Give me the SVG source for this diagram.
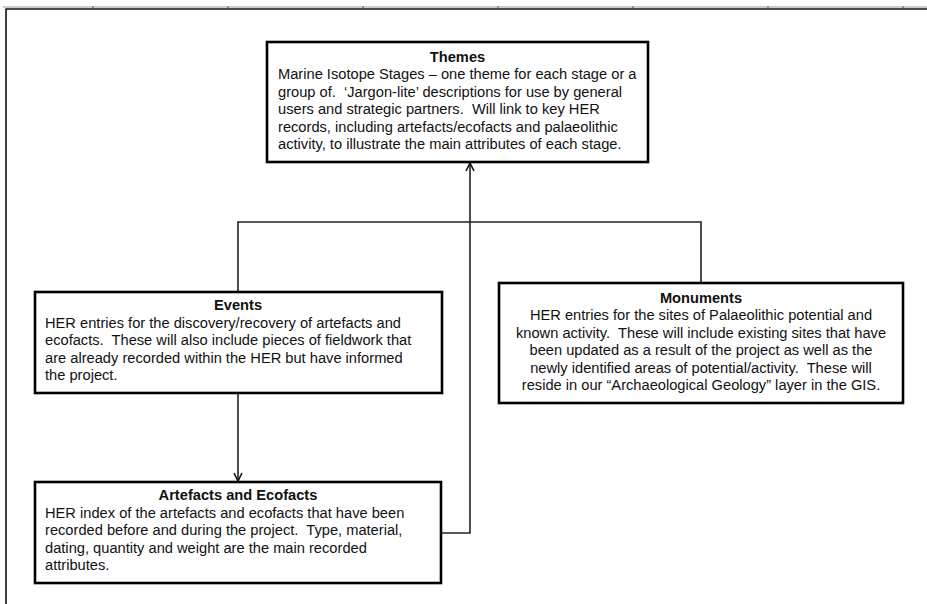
<svg xmlns="http://www.w3.org/2000/svg" width="927" height="604" viewBox="0 0 927 604">
<style>
.box{fill:#fff;stroke:#000;stroke-width:2.6}
.t{font-family:"Liberation Sans",Arial,sans-serif;font-size:14.67px;fill:#111;white-space:pre}
.h{font-weight:bold;text-anchor:middle}
.c{text-anchor:middle}
.con{fill:none;stroke:#222;stroke-width:1.6}
.frame{fill:none;stroke:#111;stroke-width:1.6}
</style>
<defs>
<marker id="arr" viewBox="0 0 10 10" refX="9" refY="5" markerWidth="10" markerHeight="10" markerUnits="userSpaceOnUse" orient="auto">
<path d="M1,1 L9,5 L1,9" fill="none" stroke="#111" stroke-width="1.6"/>
</marker>
</defs>
<rect width="927" height="604" fill="#fff"/>
<g id="frame">
<line x1="3" y1="7" x2="927" y2="7" stroke="#999" stroke-width="1"/>
<path class="frame" d="M6,604 V9 H927"/>
<g stroke="#555" stroke-width="1">
<line x1="93" y1="6" x2="93" y2="8"/><line x1="228" y1="6" x2="228" y2="8"/><line x1="363" y1="6" x2="363" y2="8"/><line x1="498" y1="6" x2="498" y2="8"/><line x1="633" y1="6" x2="633" y2="8"/><line x1="768" y1="6" x2="768" y2="8"/><line x1="903" y1="6" x2="903" y2="8"/>
</g>
</g>
<g id="connectors">
<path class="con" d="M238,292 V222 H701 V283"/>
<path class="con" d="M238,393 V481" marker-end="url(#arr)"/>
<path class="con" d="M441,533 H470 V163" marker-end="url(#arr)"/>
</g>
<g id="themes">
<rect class="box" x="267" y="42" width="381" height="120"/>
<text class="t h" x="457.5" y="61.5">Themes</text>
<text class="t" x="278" y="79">Marine Isotope Stages – one theme for each stage or a</text>
<text class="t" x="278" y="96.5">group of.  ‘Jargon-lite’ descriptions for use by general</text>
<text class="t" x="278" y="114">users and strategic partners.  Will link to key HER</text>
<text class="t" x="278" y="131.5">records, including artefacts/ecofacts and palaeolithic</text>
<text class="t" x="278" y="149">activity, to illustrate the main attributes of each stage.</text>
</g>
<g id="events">
<rect class="box" x="35" y="292" width="407" height="101"/>
<text class="t h" x="238" y="310">Events</text>
<text class="t" x="45" y="327.5">HER entries for the discovery/recovery of artefacts and</text>
<text class="t" x="45" y="345">ecofacts.  These will also include pieces of fieldwork that</text>
<text class="t" x="45" y="362.5">are already recorded within the HER but have informed</text>
<text class="t" x="45" y="380">the project.</text>
</g>
<g id="monuments">
<rect class="box" x="499" y="283" width="404" height="120"/>
<text class="t h" x="701" y="302.5">Monuments</text>
<text class="t c" x="701" y="320">HER entries for the sites of Palaeolithic potential and</text>
<text class="t c" x="701" y="337.5">known activity.  These will include existing sites that have</text>
<text class="t c" x="701" y="355">been updated as a result of the project as well as the</text>
<text class="t c" x="701" y="372.5">newly identified areas of potential/activity.  These will</text>
<text class="t c" x="701" y="390">reside in our “Archaeological Geology” layer in the GIS.</text>
</g>
<g id="artefacts">
<rect class="box" x="35" y="482" width="406" height="101"/>
<text class="t h" x="238" y="500">Artefacts and Ecofacts</text>
<text class="t" x="45" y="517.5">HER index of the artefacts and ecofacts that have been</text>
<text class="t" x="45" y="535">recorded before and during the project.  Type, material,</text>
<text class="t" x="45" y="552.5">dating, quantity and weight are the main recorded</text>
<text class="t" x="45" y="570">attributes.</text>
</g>
</svg>
